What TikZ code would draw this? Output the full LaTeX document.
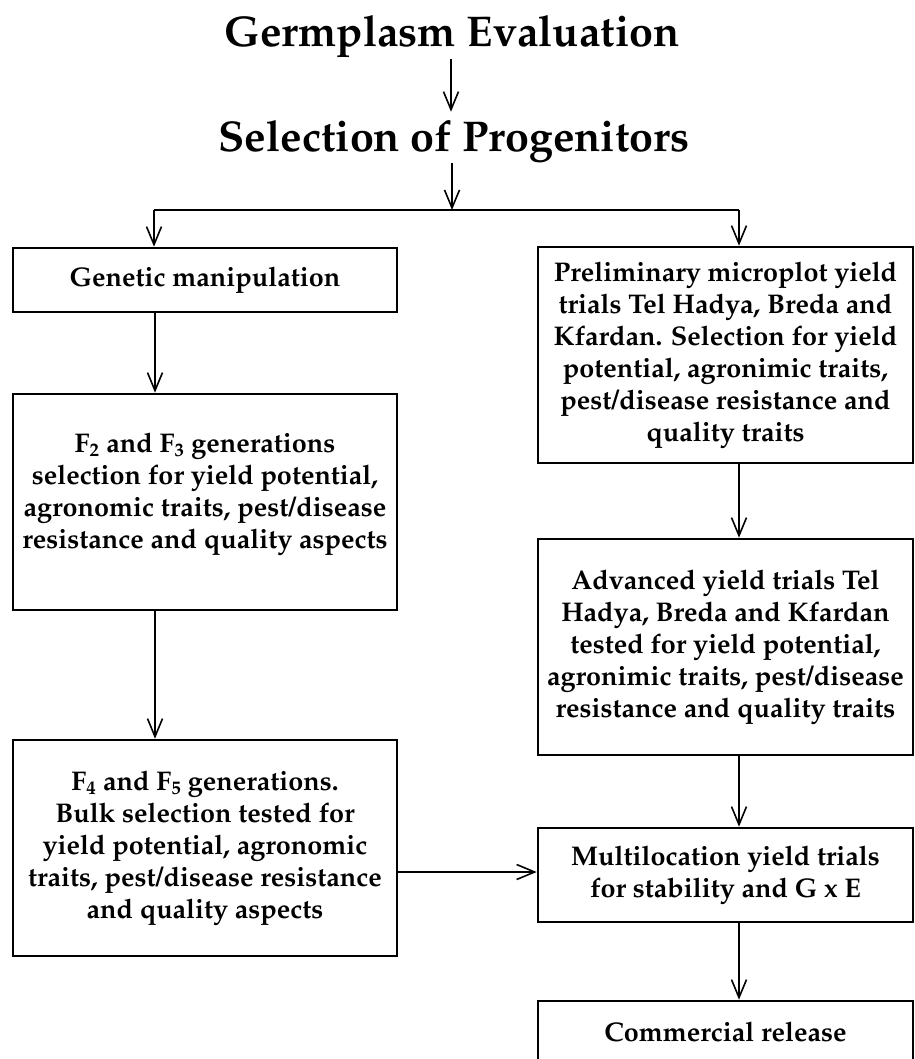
\documentclass[tikz,border=0pt]{standalone}
\usepackage[T1]{fontenc}
\renewcommand{\rmdefault}{ppl}
\usetikzlibrary{arrows.meta}
\begin{document}
\begin{tikzpicture}[x=1pt,y=1pt,
  box/.style={draw, line width=2.6pt, inner sep=0pt, font=\fontsize{27}{32}\selectfont\bfseries, align=center},
  lbox/.style={box, minimum width=384pt},
  rbox/.style={box, minimum width=375pt},
  ttl/.style={font=\fontsize{43}{48}\selectfont\bfseries, inner sep=0pt},
  txt/.style={font=\fontsize{27}{32}\selectfont\bfseries, align=center, inner sep=0pt},
  arr/.style={line width=1.8pt, -{Straight Barb[length=18pt,width=15pt,line width=1.6pt]}},
  jline/.style={line width=2.6pt}
]
\useasboundingbox (0,0) rectangle (914,-1059);

% titles
\node[ttl, anchor=base] (t1) at (452,-47) {Germplasm Evaluation};
\node[ttl, anchor=base] (t2) at (454,-152) {Selection of Progenitors};

% left column
\node[lbox, minimum height=64pt] (b1) at (205,-280) {Genetic manipulation};
\node[lbox, minimum height=216pt] (b2) at (205,-502) {};
\node[txt] (b2t) at (205,-494) {F\textsubscript{2} and F\textsubscript{3} generations\\selection for yield potential,\\agronomic traits, pest/disease\\resistance and quality aspects};
\node[lbox, minimum height=216pt] (b3) at (205,-848) {F\textsubscript{4} and F\textsubscript{5} generations.\\Bulk selection tested for\\yield potential, agronomic\\traits, pest/disease resistance\\and quality aspects};

% right column
\node[rbox, minimum height=216pt] (bA) at (725.5,-355) {Preliminary microplot yield\\trials Tel Hadya, Breda and\\Kfardan. Selection for yield\\potential, agronimic traits,\\pest/disease resistance and\\quality traits};
\node[rbox, minimum height=216pt] (bB) at (725.5,-647) {Advanced yield trials Tel\\Hadya, Breda and Kfardan\\tested for yield potential,\\agronimic traits, pest/disease\\resistance and quality traits};
\node[rbox, minimum height=94pt] (bM) at (725.5,-875) {Multilocation yield trials\\for stability and G x E};
\node[rbox, minimum height=62pt] (bC) at (725.5,-1032) {Commercial release};

% helper coordinates
\coordinate (tx) at (451,0);
\coordinate (j) at (452,-210);
\coordinate (jl) at (154,-210);
\coordinate (jr) at (739,-210);
\coordinate (lx) at (155,0);
\coordinate (rx) at (739,0);
\coordinate (hy) at (0,-872);

% connectors
\draw[arr, shorten <=1pt, shorten >=9pt] (tx |- t1.south) -- (tx |- t2.north);
\draw[arr] (j |- t2.south) -- (j);
\draw[jline] (jl) -- (jr);
\draw[arr] (jl) -- (jl |- b1.north);
\draw[arr] (jr) -- (jr |- bA.north);
\draw[arr] (lx |- b1.south) -- (lx |- b2.north);
\draw[arr] (lx |- b2.south) -- (lx |- b3.north);
\draw[arr] (rx |- bA.south) -- (rx |- bB.north);
\draw[arr] (rx |- bB.south) -- (rx |- bM.north);
\draw[arr] (rx |- bM.south) -- (rx |- bC.north);
\draw[arr] (b3.east |- hy) -- (bM.west |- hy);
\end{tikzpicture}
\end{document}
